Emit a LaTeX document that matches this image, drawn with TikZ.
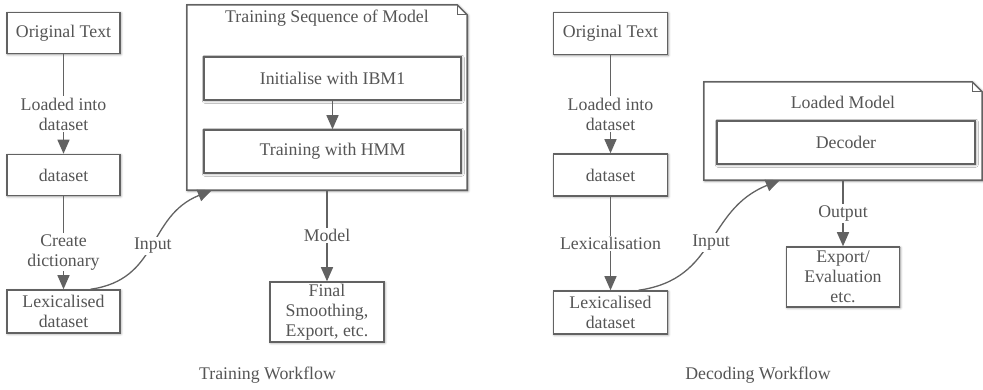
\documentclass[tikz,border=0pt]{standalone}
\usepackage{fontspec}
\setmainfont{Liberation Serif}
\usetikzlibrary{arrows.meta,calc,shadows.blur}
\definecolor{ink}{HTML}{626262}
\definecolor{txt}{HTML}{555555}
\begin{document}
\begin{tikzpicture}[x=1pt,y=-1pt,
  font=\fontsize{17.8}{20}\selectfont, text=txt,
  softshadow/.style={blur shadow={shadow xshift=0.8pt, shadow yshift=-0.8pt,
      shadow blur radius=2.5pt, shadow blur steps=6, shadow opacity=45}},
  box/.style={draw=ink, line width=1.5pt, fill=white, rectangle, inner sep=0pt,
      align=center, softshadow},
  frame/.style={draw=ink, line width=1.5pt, fill=white, softshadow},
  flow/.style={draw=ink, line width=1.3pt, -{Triangle[length=14pt,width=12pt]}},
  curvy/.style={out=8, in=-158, looseness=1.15},
  lbl/.style={fill=white, inner sep=1.5pt, align=center},
  plaintext/.style={inner sep=0pt}]
\useasboundingbox (0,0) rectangle (983,390);

% ---------- training workflow ----------
\node[box, minimum width=113, minimum height=41] (orig1) at (63.5,33) {Original Text};
\node[box, minimum width=113, minimum height=41] (data1) at (63.5,175) {dataset};
\node[box, minimum width=113, minimum height=43] (lex1) at (63.5,311.5) {Lexicalised\\dataset};

% note frame with folded corner
\node[inner sep=0pt, minimum width=280, minimum height=185] (seq) at (327,97.5) {};
\path[frame] (seq.north west) -- ($(seq.north east)+(-10,0)$) -- ($(seq.north east)+(0,10)$)
  -- (seq.south east) -- (seq.south west) -- cycle;
\draw[ink, line width=1pt] ($(seq.north east)+(-10,0)$) -- ($(seq.north east)+(-10,10)$)
  -- ($(seq.north east)+(0,10)$);
\node[plaintext] (seqtitle) at (327,18) {Training Sequence of Model};
\node[box, minimum width=257, minimum height=43] (init) at (332.5,78.5) {Initialise with IBM1};
\node[box, minimum width=257, minimum height=43] (hmm) at (332.5,151.5) {Training with HMM};

\node[box, minimum width=114, minimum height=60] (final) at (327,312) {Final\\Smoothing,\\Export, etc.};
\node[plaintext] (cap1) at (267.5,375) {Training Workflow};

\draw[flow] (orig1) -- node[lbl, pos=0.6] {Loaded into\\dataset} (data1);
\draw[flow] (data1) -- node[lbl, pos=0.6] {Create\\dictionary} (lex1);
\draw[flow] (init) -- (hmm);
\draw[flow] (seq) -- node[lbl] {Model} (final);
\draw[flow] ($(lex1.north)+(27,0)$) to[curvy]
  node[lbl] {Input} ($(seq.south west)+(25,0)$);

% ---------- decoding workflow ----------
\node[box, minimum width=114, minimum height=42] (orig2) at (610.5,33.5) {Original Text};
\node[box, minimum width=114, minimum height=42] (data2) at (610.5,175) {dataset};
\node[box, minimum width=114, minimum height=43] (lex2) at (610.5,312.5) {Lexicalised\\dataset};

\node[inner sep=0pt, minimum width=278, minimum height=98] (loaded) at (843,131) {};
\path[frame] (loaded.north west) -- ($(loaded.north east)+(-10,0)$) -- ($(loaded.north east)+(0,10)$)
  -- (loaded.south east) -- (loaded.south west) -- cycle;
\draw[ink, line width=1pt] ($(loaded.north east)+(-10,0)$) -- ($(loaded.north east)+(-10,10)$)
  -- ($(loaded.north east)+(0,10)$);
\node[plaintext] (loadedtitle) at (843,102) {Loaded Model};
\node[box, minimum width=258, minimum height=43] (decoder) at (846,142.5) {Decoder};

\node[box, minimum width=113, minimum height=60] (export) at (843,277) {Export/\\Evaluation\\etc.};
\node[plaintext] (cap2) at (758,375) {Decoding Workflow};

\draw[flow] (orig2) -- node[lbl, pos=0.6] {Loaded into\\dataset} (data2);
\draw[flow] (data2) -- node[lbl] {Lexicalisation} (lex2);
\draw[flow] (loaded) -- node[lbl] {Output} (export);
\draw[flow] ($(lex2.north)+(28,0)$) to[curvy]
  node[lbl] {Input} ($(loaded.south west)+(76,0)$);
\end{tikzpicture}
\end{document}
